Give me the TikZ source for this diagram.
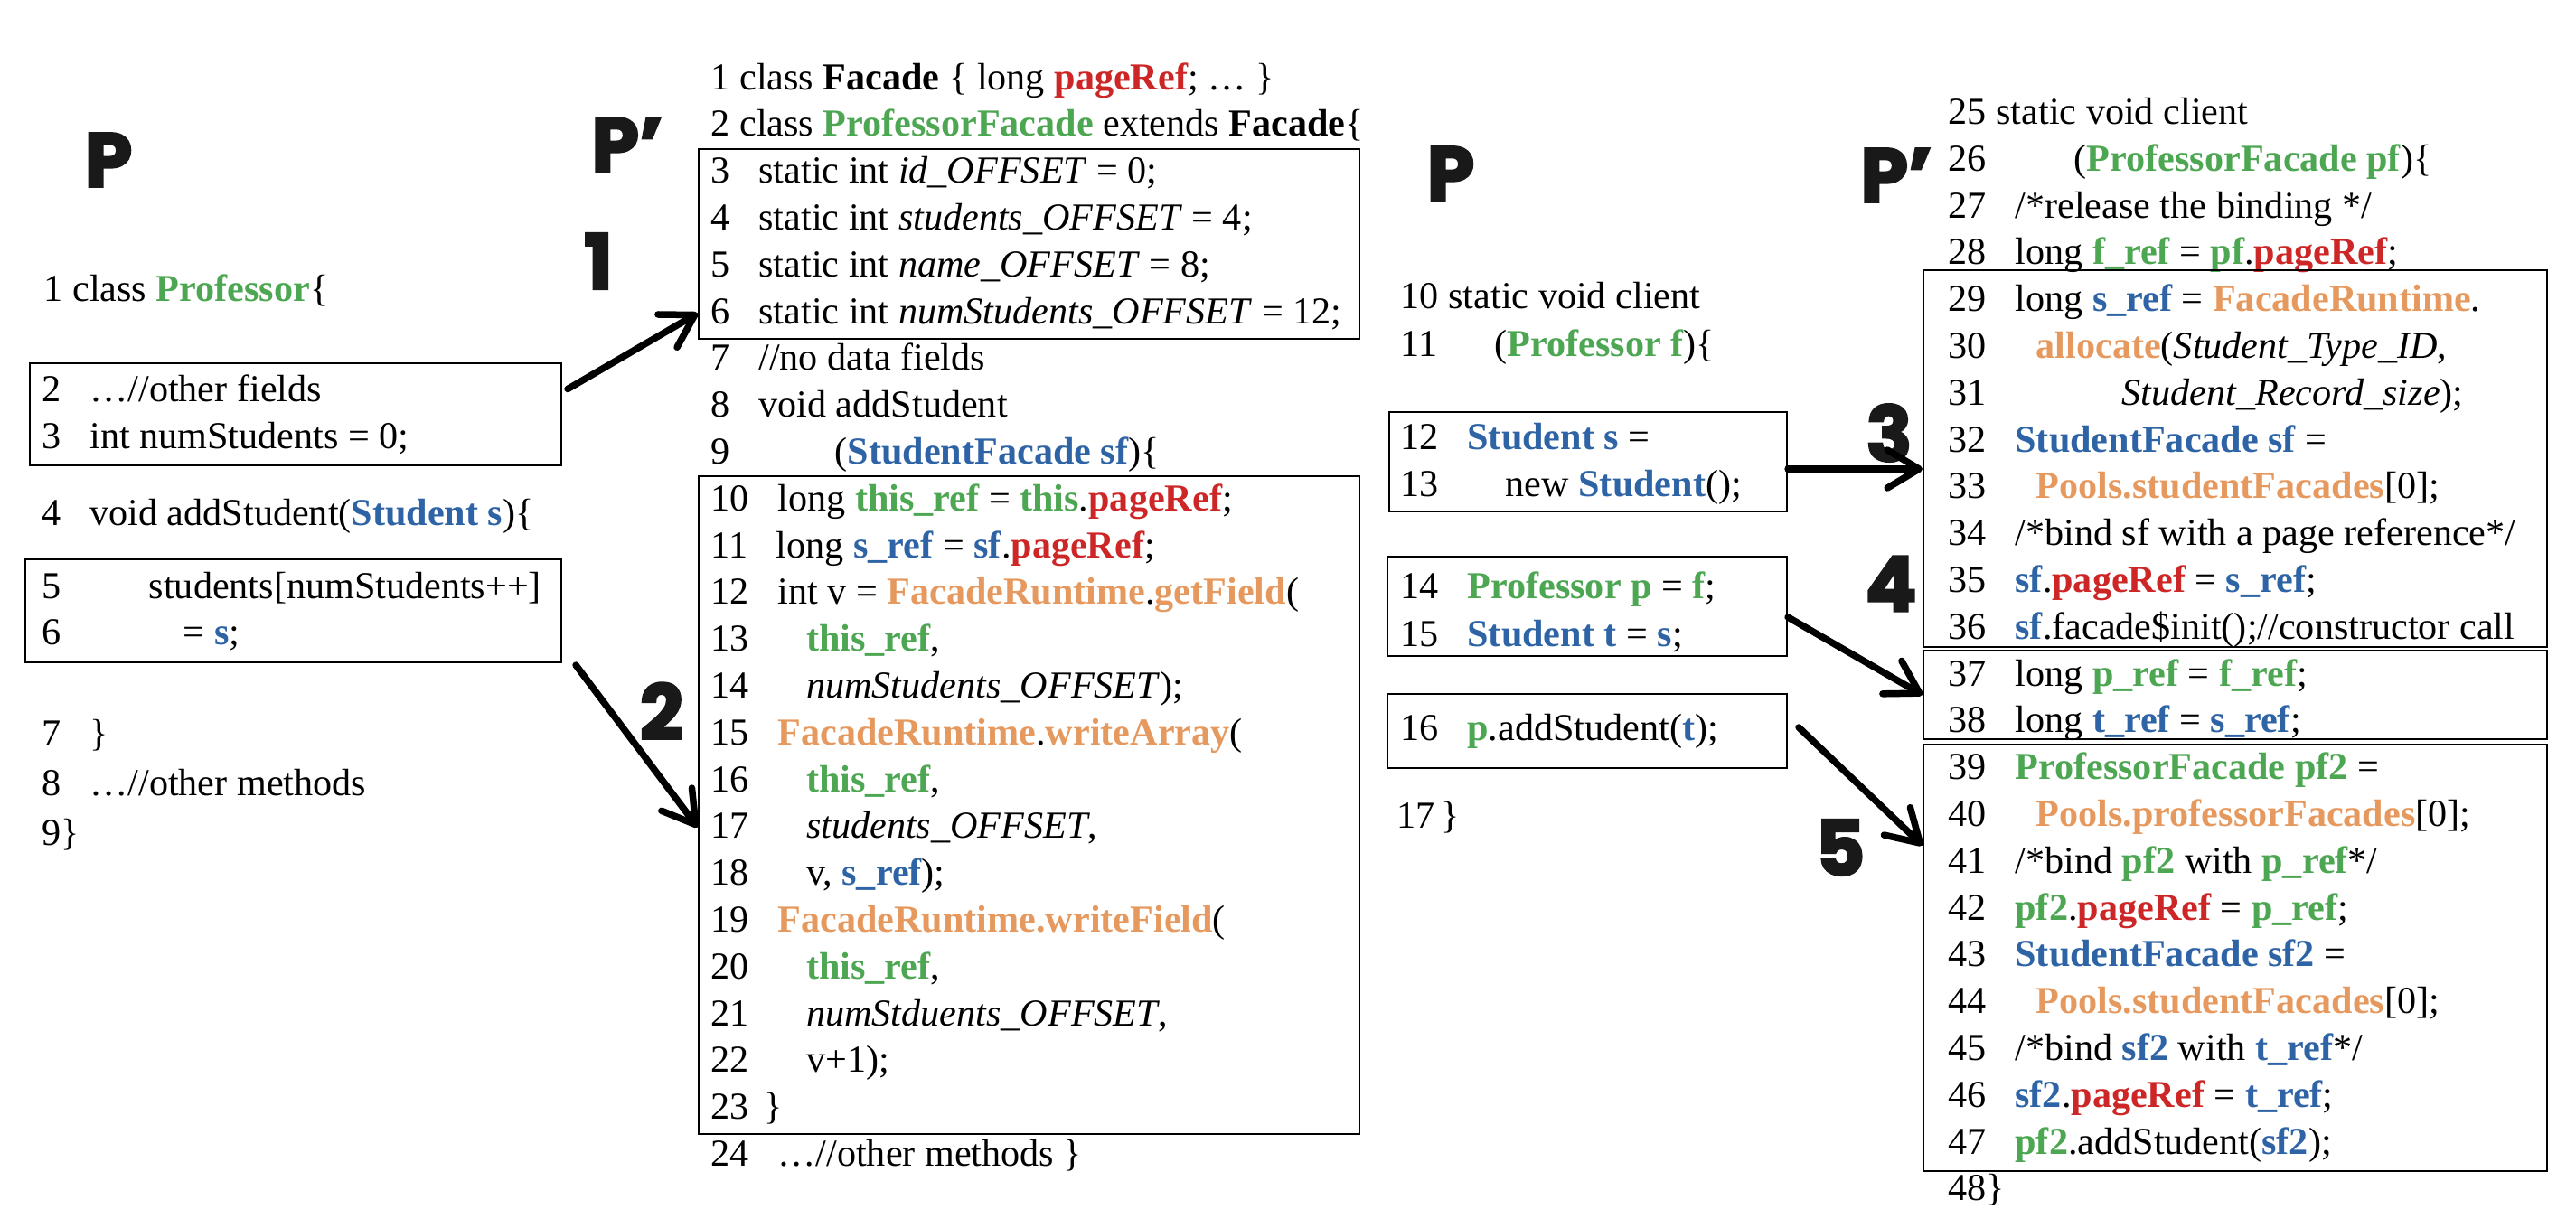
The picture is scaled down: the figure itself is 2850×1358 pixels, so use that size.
\documentclass[tikz,border=0pt]{standalone}
\usepackage{fontspec}
\setmainfont{Liberation Serif}
\newfontfamily\markfont{Poppins}[BoldFeatures={FakeBold=3}]
\usepackage{xcolor}
\usetikzlibrary{
    arrows.meta,
    calc,
    fit,
    positioning
}
\definecolor{javagreen}{RGB}{76,166,82}
\definecolor{javablue}{RGB}{46,100,165}
\definecolor{javared}{RGB}{205,38,38}
\definecolor{javaorange}{RGB}{230,153,94}
\newcommand{\grn}[1]{\textbf{\color{javagreen}#1}}
\newcommand{\blu}[1]{\textbf{\color{javablue}#1}}
\newcommand{\rdd}[1]{\textbf{\color{javared}#1}}
\newcommand{\orng}[1]{\textbf{\color{javaorange}#1}}
\newcommand{\tb}{\hspace{0.75em}}

\begin{document}
\begin{tikzpicture}[x=0.1mm, y=-0.1mm,
    code/.style={anchor=base west, inner sep=0pt, font=\fontsize{12}{14}\selectfont},
    codebox/.style={draw, line width=0.6pt, inner sep=0pt},
    stage/.style={font=\markfont\bfseries\fontsize{24}{24}\selectfont, text=black!90},
    link/.style={line width=0.75mm, line cap=round, -{Straight Barb[length=3.5mm, width=4.2mm, round]}}]
    \useasboundingbox (0,0) rectangle (2850,1358);

    \node[stage] (pL) at (120,177) {P};
    \node[code] (l1) at (48,333) {1 class \grn{Professor}\{};
    \node[code] (l2) at (46,444) {2\tb …//other fields};
    \node[code] (l3) at (46,496) {3\tb int numStudents = 0;};
    \node[code] (l4) at (46,581) {4\tb void addStudent(\blu{Student s})\{};
    \node[code] (l5) at (46,662) {5\tb\hspace{1.55em}students[numStudents++]};
    \node[code] (l6) at (46,713) {6\tb\hspace{2.45em}= \blu{s};};
    \node[code] (l7) at (46,825) {7\tb\}};
    \node[code] (l8) at (46,880) {8\tb …//other methods};
    \node[code] (l9) at (46,935) {9\}};
    \node[codebox, fit={(33,402) (621,515)}] (bA) {};
    \node[codebox, fit={(28,619) (621,733)}] (bB) {};

    \node[stage] (pM) at (694,160) {P’};
    \node[stage] (n1) at (662,289) {1};
    \node[stage] (n2) at (732,787) {2};
    \node[code] (m1) at (786,99) {1 class \textbf{Facade} \{ long \rdd{pageRef}; … \}};
    \node[code] (m2) at (786,150) {2 class \grn{ProfessorFacade} extends \textbf{Facade}\{};
    \node[code] (m3) at (786,202) {3\tb static int \textit{id\_OFFSET} = 0;};
    \node[code] (m4) at (786,254) {4\tb static int \textit{students\_OFFSET} = 4;};
    \node[code] (m5) at (786,306) {5\tb static int \textit{name\_OFFSET} = 8;};
    \node[code] (m6) at (786,358) {6\tb static int \textit{numStudents\_OFFSET} = 12;};
    \node[code] (m7) at (786,409) {7\tb //no data fields};
    \node[code] (m8) at (786,461) {8\tb void addStudent};
    \node[code] (m9) at (786,513) {9\tb\hspace{2em}(\blu{StudentFacade sf})\{};
    \node[code] (m10) at (786,565) {10\tb long \grn{this\_ref} = \grn{this}.\rdd{pageRef};};
    \node[code] (m11) at (786,617) {11\tb long \blu{s\_ref} = \blu{sf}.\rdd{pageRef};};
    \node[code] (m12) at (786,668) {12\tb int v = \orng{FacadeRuntime}.\orng{getField}(};
    \node[code] (m13) at (786,720) {13\tb\hspace{0.75em}\grn{this\_ref},};
    \node[code] (m14) at (786,772) {14\tb\hspace{0.75em}\textit{numStudents\_OFFSET});};
    \node[code] (m15) at (786,824) {15\tb \orng{FacadeRuntime}.\orng{writeArray}(};
    \node[code] (m16) at (786,876) {16\tb\hspace{0.75em}\grn{this\_ref},};
    \node[code] (m17) at (786,927) {17\tb\hspace{0.75em}\textit{students\_OFFSET},};
    \node[code] (m18) at (786,979) {18\tb\hspace{0.75em}v, \blu{s\_ref});};
    \node[code] (m19) at (786,1031) {19\tb \orng{FacadeRuntime.writeField}(};
    \node[code] (m20) at (786,1083) {20\tb\hspace{0.75em}\grn{this\_ref},};
    \node[code] (m21) at (786,1135) {21\tb\hspace{0.75em}\textit{numStduents\_OFFSET},};
    \node[code] (m22) at (786,1186) {22\tb\hspace{0.75em}v+1);};
    \node[code] (m23) at (786,1238) {23\hspace{0.4em}\}};
    \node[code] (m24) at (786,1290) {24\tb …//other methods \}};
    \node[codebox, fit={(773,165) (1504,375)}] (bC) {};
    \node[codebox, fit={(773,527) (1504,1255)}] (bD) {};

    \node[stage] (pP) at (1605,192) {P};
    \node[code] (p10) at (1549,341) {10 static void client};
    \node[code] (p11) at (1549,394) {11\hspace{1.5em}(\grn{Professor f})\{};
    \node[code] (p12) at (1549,497) {12\tb \blu{Student s} =};
    \node[code] (p13) at (1549,549) {13\tb\hspace{1em}new \blu{Student}();};
    \node[code] (p14) at (1549,662) {14\tb \grn{Professor p} = \grn{f};};
    \node[code] (p15) at (1549,715) {15\tb \blu{Student t} = \blu{s};};
    \node[code] (p16) at (1549,819) {16\tb \grn{p}.addStudent(\blu{t});};
    \node[code] (p17) at (1545,916) {17\,\}};
    \node[codebox, fit={(1537,456) (1977,566)}] (bE) {};
    \node[codebox, fit={(1535,616) (1977,726)}] (bF) {};
    \node[codebox, fit={(1535,768) (1977,850)}] (bG) {};

    \node[stage] (pR) at (2098,194) {P’};
    \node[stage] (n3) at (2090,479) {3};
    \node[stage] (n4) at (2092,646) {4};
    \node[stage] (n5) at (2036,938) {5};
    \node[code] (r25) at (2155,137) {25 static void client};
    \node[code] (r26) at (2155,189) {26\tb\hspace{1.55em}(\grn{ProfessorFacade pf})\{};
    \node[code] (r27) at (2155,241) {27\tb /*release the binding */};
    \node[code] (r28) at (2155,292) {28\tb long \grn{f\_ref} = \grn{pf}.\rdd{pageRef};};
    \node[code] (r29) at (2155,344) {29\tb long \blu{s\_ref} = \orng{FacadeRuntime}.};
    \node[code] (r30) at (2155,396) {30\tb\hspace{0.55em}\orng{allocate}(\textit{Student\_Type\_ID},};
    \node[code] (r31) at (2155,448) {31\tb\hspace{2.8em}\textit{Student\_Record\_size});};
    \node[code] (r32) at (2155,500) {32\tb \blu{StudentFacade sf} =};
    \node[code] (r33) at (2155,551) {33\tb\hspace{0.55em}\orng{Pools.studentFacades}[0];};
    \node[code] (r34) at (2155,603) {34\tb /*bind sf with a page reference*/};
    \node[code] (r35) at (2155,655) {35\tb \blu{sf}.\rdd{pageRef} = \blu{s\_ref};};
    \node[code] (r36) at (2155,707) {36\tb \blu{sf}.facade\$init();//constructor call};
    \node[code] (r37) at (2155,759) {37\tb long \grn{p\_ref} = \grn{f\_ref};};
    \node[code] (r38) at (2155,810) {38\tb long \blu{t\_ref} = \blu{s\_ref};};
    \node[code] (r39) at (2155,862) {39\tb \grn{ProfessorFacade pf2} =};
    \node[code] (r40) at (2155,914) {40\tb\hspace{0.55em}\orng{Pools.professorFacades}[0];};
    \node[code] (r41) at (2155,966) {41\tb /*bind \grn{pf2} with \grn{p\_ref}*/};
    \node[code] (r42) at (2155,1018) {42\tb \grn{pf2}.\rdd{pageRef} = \grn{p\_ref};};
    \node[code] (r43) at (2155,1069) {43\tb \blu{StudentFacade sf2} =};
    \node[code] (r44) at (2155,1121) {44\tb\hspace{0.55em}\orng{Pools.studentFacades}[0];};
    \node[code] (r45) at (2155,1173) {45\tb /*bind \blu{sf2} with \blu{t\_ref}*/};
    \node[code] (r46) at (2155,1225) {46\tb \blu{sf2}.\rdd{pageRef} = \blu{t\_ref};};
    \node[code] (r47) at (2155,1277) {47\tb \grn{pf2}.addStudent(\blu{sf2});};
    \node[code] (r48) at (2155,1328) {48\}};
    \node[codebox, fit={(2128,299) (2818,716)}] (bH) {};
    \node[codebox, fit={(2128,720) (2818,818)}] (bI) {};
    \node[codebox, fit={(2128,824) (2818,1296)}] (bJ) {};

    \draw
    ($(bA.east)+(6,-28)$) edge[link] (bC.west |- m6)
    ($(bB.south east)+(15,2)$) edge[link] (bD.west |- m17)
    ($(bE.east)+(0,8)$) edge[link] ($(bE.east -| bH.west)+(0,8)$)
    ($(bF.east)+(0,12)$) edge[link] (bI.west)
    ($(bG.east)+(12,-4)$) edge[link] (bJ.west |- r41.north);
\end{tikzpicture}
\end{document}
